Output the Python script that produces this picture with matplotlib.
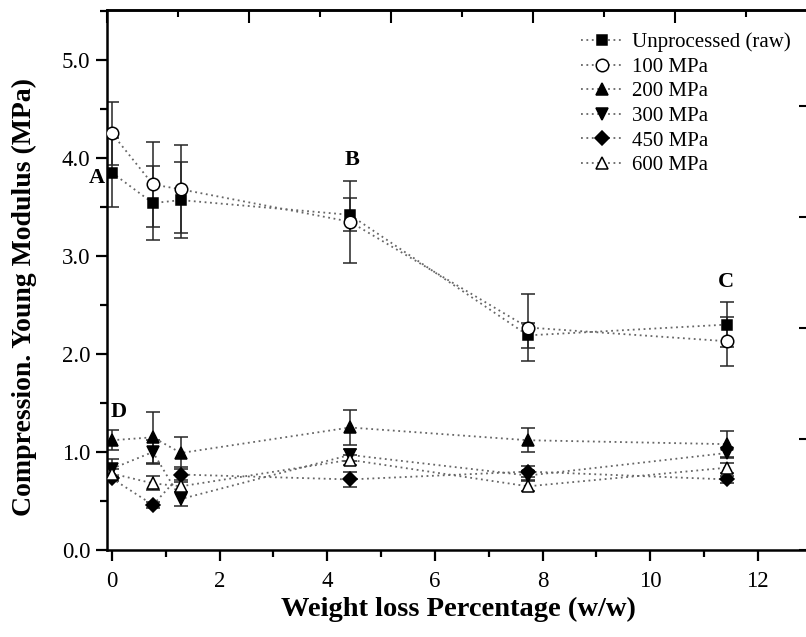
import matplotlib
matplotlib.use("Agg")
import matplotlib.pyplot as plt
from matplotlib.ticker import MultipleLocator, NullFormatter, FormatStrFormatter

plt.rcParams["font.family"] = ["Liberation Serif", "DejaVu Serif"]

# Weight loss (% w/w) at which each sample was measured
weight_loss = [0.0, 0.76, 1.28, 4.42, 7.73, 11.43]

labels = ["Unprocessed (raw)", "100 MPa", "200 MPa", "300 MPa", "450 MPa", "600 MPa"]

raw_mean = [3.85, 3.54, 3.57, 3.42, 2.19, 2.30]
raw_err = [0.35, 0.38, 0.39, 0.17, 0.13, 0.23]

p100_mean = [4.25, 3.73, 3.68, 3.35, 2.27, 2.13]
p100_err = [0.32, 0.43, 0.45, 0.42, 0.34, 0.25]

p200_mean = [1.12, 1.15, 0.99, 1.25, 1.12, 1.08]
p200_err = [0.10, 0.26, 0.16, 0.18, 0.12, 0.13]

p300_mean = [0.83, 1.00, 0.52, 0.97, 0.76, 0.99]
p300_err = [0.10, 0.12, 0.07, 0.06, 0.05, 0.05]

p450_mean = [0.73, 0.46, 0.77, 0.72, 0.80, 0.72]
p450_err = [0.03, 0.03, 0.08, 0.08, 0.06, 0.04]

p600_mean = [0.78, 0.68, 0.65, 0.92, 0.65, 0.84]
p600_err = [0.05, 0.07, 0.06, 0.05, 0.05, 0.05]

series = [
    (raw_mean, raw_err, "s", "black", 7),
    (p100_mean, p100_err, "o", "white", 9),
    (p200_mean, p200_err, "^", "black", 9),
    (p300_mean, p300_err, "v", "black", 9),
    (p450_mean, p450_err, "D", "black", 7.5),
    (p600_mean, p600_err, "^", "white", 9),
]

fig = plt.figure(figsize=(8.06, 6.37), dpi=100)
ax = fig.add_axes([107 / 806, 87 / 637, 703 / 806, 540 / 637])

handles = []
for (mean, err, mk, fc, ms), lab in zip(series, labels):
    ax.errorbar(weight_loss, mean, yerr=err, fmt="none", ecolor="0.15",
                elinewidth=1.1, capsize=5, capthick=1.1, zorder=2)
    h, = ax.plot(weight_loss, mean, linestyle=(0, (1, 2)), color="0.4", lw=1.3,
                 marker=mk, markerfacecolor=fc, markeredgecolor="black",
                 markeredgewidth=1.1, markersize=ms, label=lab, zorder=3)
    handles.append(h)

ax.set_xlim(-0.093, 12.97)
ax.set_ylim(0, 5.51)

ax.xaxis.set_major_locator(MultipleLocator(2))
ax.xaxis.set_minor_locator(MultipleLocator(1))
ax.yaxis.set_major_locator(MultipleLocator(1))
ax.yaxis.set_minor_locator(MultipleLocator(0.5))
ax.yaxis.set_major_formatter(FormatStrFormatter("%.1f"))

ax.tick_params(axis="both", which="major", direction="out", length=8, width=1.6,
               labelsize=16.5, pad=4)
ax.tick_params(axis="both", which="minor", direction="out", length=5, width=1.6)
ax.tick_params(axis="x", which="major", pad=7)

for side in ("left", "bottom", "top"):
    ax.spines[side].set_linewidth(1.8)
ax.spines["right"].set_visible(False)

# secondary scales on the frame: ticks only
top = ax.twiny()
top.set_xlim(0, 703 / 71)
top.xaxis.set_major_locator(MultipleLocator(2))
top.xaxis.set_minor_locator(MultipleLocator(1))
top.xaxis.set_major_formatter(NullFormatter())
top.tick_params(axis="x", which="major", direction="in", length=9, width=1.5)
top.tick_params(axis="x", which="minor", direction="in", length=5, width=1.5)
for side in ("left", "right", "bottom"):
    top.spines[side].set_visible(False)
top.spines["top"].set_linewidth(1.8)

right = ax.twinx()
right.set_ylim(0, 540 / 111)
right.yaxis.set_major_locator(MultipleLocator(1))
right.yaxis.set_major_formatter(NullFormatter())
right.tick_params(axis="y", which="major", direction="in", length=8, width=1.5)
for side in ("left", "top", "bottom", "right"):
    right.spines[side].set_visible(False)

ax.set_xlabel("Weight loss Percentage (w/w)", fontsize=20.5, fontweight="bold")
ax.xaxis.set_label_coords(0.5, -0.11)
ax.set_ylabel("Compression. Young Modulus (MPa)", fontsize=20, fontweight="bold")
ax.yaxis.set_label_coords(-0.117, 0.468)
ax.yaxis.label.set_va("center")
ax.xaxis.label.set_va("center")

for txt, x, y in [("A", -0.28, 3.80), ("B", 4.46, 3.98), ("C", 11.4, 2.73), ("D", 0.13, 1.41)]:
    ax.text(x, y, txt, fontsize=16, fontweight="bold", ha="center", va="center",
            clip_on=False)

leg = ax.legend(handles=handles, loc="upper left",
                bbox_to_anchor=(459 / 703, 1 - 8 / 540),
                frameon=False, fontsize=15, handlelength=2.1, handletextpad=0.35,
                labelspacing=0.24, borderaxespad=0.3)

fig.savefig("out.png", dpi=100)
